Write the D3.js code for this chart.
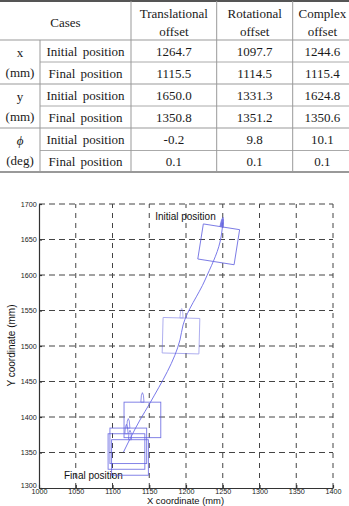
<!DOCTYPE html>
<html>
<head>
<meta charset="utf-8">
<script src="https://cdn.jsdelivr.net/npm/d3@7"></script>
<style>
  body { margin: 0; background: #fff; }
  svg { display: block; }
</style>
</head>
<body>
<div id="chart-container"></div>
<script>
// ---- table data ----
const caseHeaders = [["Translational", "offset"], ["Rotational", "offset"], ["Complex", "offset"]];
const varLabels = [["x", "(mm)"], ["y", "(mm)"], ["\u03d5", "(deg)"]];
const posLabels = ["Initial position", "Final position"];
const translational = ["1264.7", "1115.5", "1650.0", "1350.8", "-0.2", "0.1"];
const rotational = ["1097.7", "1114.5", "1331.3", "1351.2", "9.8", "0.1"];
const complexOff = ["1244.6", "1115.4", "1624.8", "1350.6", "10.1", "0.1"];

// ---- plot data ----
const xTicks = [1000, 1050, 1100, 1150, 1200, 1250, 1300, 1350, 1400];
const yTicks = [1300, 1350, 1400, 1450, 1500, 1550, 1600, 1650, 1700];
// trajectory of the robot centre (mm)
const pathX = [1250.3, 1246.3, 1225.9, 1196.0, 1191.8, 1151.0, 1137.4, 1115.0];
const pathY = [1674.6, 1646.5, 1593.0, 1529.6, 1508.5, 1419.7, 1395.8, 1350.7];
// robot footprint poses (mm, deg)
const poseX = [1244.5, 1193.2, 1140.7, 1121.5, 1119.0, 1123.8];
const poseY = [1643.2, 1514.5, 1395.9, 1359.4, 1351.4, 1343.0];
const poseAngle = [9, 1.5, 0, 0, 0, 0];
const footprint = 50; // mm

const width = 349, height = 506;

const svg = d3.select("#chart-container")
    .append("svg")
        .attr("width", width)
        .attr("height", height);

// ================= table =================
const colX = [0, 40, 131, 216.7, 292.7, 352];
const rowY = [1, 40, 62, 84, 106, 128, 150.5, 172];
const serif = "'Liberation Serif', 'DejaVu Serif', serif";

const tbl = svg.append("g")
    .attr("font-family", serif)
    .attr("font-size", 13)
    .attr("fill", "#1a1a1a");

// horizontal rules
const hRules = [
    { y: rowY[0], x0: 0, w: 2, c: "#555" },
    { y: rowY[1], x0: 0, w: 1, c: "#999" },
    { y: rowY[2], x0: colX[1], w: 1, c: "#aaa" },
    { y: rowY[3], x0: 0, w: 1, c: "#999" },
    { y: rowY[4], x0: colX[1], w: 1, c: "#aaa" },
    { y: rowY[5], x0: 0, w: 1, c: "#999" },
    { y: rowY[6], x0: colX[1], w: 1, c: "#aaa" },
    { y: rowY[7], x0: 0, w: 1.5, c: "#777" }
];
tbl.selectAll("line.h")
    .data(hRules)
    .enter().append("line")
        .attr("class", "h")
        .attr("x1", d => d.x0).attr("x2", width)
        .attr("y1", d => d.y).attr("y2", d => d.y)
        .attr("stroke", d => d.c)
        .attr("stroke-width", d => d.w);

tbl.append("line")
    .attr("x1", colX[1]).attr("x2", colX[1])
    .attr("y1", rowY[1]).attr("y2", rowY[7])
    .attr("stroke", "#999");
tbl.selectAll("line.v")
    .data(colX.slice(2, 5))
    .enter().append("line")
        .attr("class", "v")
        .attr("x1", d => d).attr("x2", d => d)
        .attr("y1", rowY[0]).attr("y2", rowY[7])
        .attr("stroke", "#999");

// header
tbl.append("text")
    .attr("x", (colX[0] + colX[2]) / 2)
    .attr("y", 22)
    .attr("dy", "0.35em")
    .attr("text-anchor", "middle")
    .text("Cases");

caseHeaders.forEach((lines, i) => {
    const cx = (colX[i + 2] + colX[i + 3]) / 2;
    lines.forEach((t, j) => {
        tbl.append("text")
            .attr("x", cx)
            .attr("y", 13 + j * 18)
            .attr("dy", "0.35em")
            .attr("text-anchor", "middle")
            .text(t);
    });
});

// body
const columns = [translational, rotational, complexOff];
varLabels.forEach((lab, g) => {
    const top = rowY[1 + g * 2], bot = rowY[3 + g * 2];
    const mid = (top + bot) / 2;
    tbl.append("text")
        .attr("x", colX[1] / 2)
        .attr("y", mid - 10)
        .attr("dy", "0.35em")
        .attr("text-anchor", "middle")
        .attr("font-style", g === 2 ? "italic" : null)
        .text(lab[0]);
    tbl.append("text")
        .attr("x", colX[1] / 2)
        .attr("y", mid + 10)
        .attr("dy", "0.35em")
        .attr("text-anchor", "middle")
        .text(lab[1]);

    posLabels.forEach((p, k) => {
        const r = 1 + g * 2 + k;
        const cy = (rowY[r] + rowY[r + 1]) / 2;
        tbl.append("text")
            .attr("x", (colX[1] + colX[2]) / 2)
            .attr("y", cy)
            .attr("dy", "0.35em")
            .attr("text-anchor", "middle")
            .attr("word-spacing", 2)
            .text(p);
        columns.forEach((col, c) => {
            tbl.append("text")
                .attr("x", (colX[c + 2] + colX[c + 3]) / 2)
                .attr("y", cy)
                .attr("dy", "0.35em")
                .attr("text-anchor", "middle")
                .text(col[g * 2 + k]);
        });
    });
});

// ================= plot =================
const x = d3.scaleLinear().domain([1000, 1400]).range([39, 333]);
const y = d3.scaleLinear().domain([1300, 1700]).range([488, 204]);
const sans = "'Liberation Sans', Arial, sans-serif";

const plot = svg.append("g");

// dashed grid
plot.selectAll("line.gx")
    .data(xTicks.slice(1))
    .enter().append("line")
        .attr("class", "gx")
        .attr("x1", d => x(d)).attr("x2", d => x(d))
        .attr("y1", y(1300)).attr("y2", y(1700))
        .attr("stroke", "#444")
        .attr("stroke-width", 1)
        .attr("stroke-dasharray", "5,5");
plot.selectAll("line.gy")
    .data(yTicks.slice(1))
    .enter().append("line")
        .attr("class", "gy")
        .attr("x1", x(1000)).attr("x2", x(1400))
        .attr("y1", d => y(d)).attr("y2", d => y(d))
        .attr("stroke", "#444")
        .attr("stroke-width", 1)
        .attr("stroke-dasharray", "6,4");

// axes
const fmt = d3.format("d");
const xAxis = plot.append("g")
    .attr("transform", `translate(0,${y(1300)})`)
    .call(d3.axisBottom(x).tickValues(xTicks).tickFormat(fmt)
        .tickSizeInner(-3).tickSizeOuter(0).tickPadding(1.2));
const yAxis = plot.append("g")
    .attr("transform", `translate(${x(1000)},0)`)
    .call(d3.axisLeft(y).tickValues(yTicks).tickFormat(fmt)
        .tickSizeInner(-3).tickSizeOuter(0).tickPadding(2.3));
[xAxis, yAxis].forEach(a => {
    a.selectAll("path, line").attr("stroke", "#333").attr("stroke-width", 1.2);
    a.selectAll("text")
        .attr("font-family", sans)
        .attr("font-size", 7.2)
        .attr("fill", "#222");
});
// lowest y label sits just above the x labels, as in the original
yAxis.selectAll(".tick text").filter(d => d === 1300).attr("dy", "-0.1em");

// axis titles
plot.append("text")
    .attr("x", 185.5)
    .attr("y", 503.8)
    .attr("text-anchor", "middle")
    .attr("font-family", sans)
    .attr("font-size", 9.4)
    .attr("fill", "#111")
    .text("X coordinate (mm)");
plot.append("text")
    .attr("transform", `translate(15,345.5) rotate(-90)`)
    .attr("text-anchor", "middle")
    .attr("font-family", sans)
    .attr("font-size", 10)
    .attr("fill", "#111")
    .text("Y coordinate (mm)");

// annotations
plot.append("text")
    .attr("x", x(1158))
    .attr("y", y(1683))
    .attr("dy", "0.35em")
    .attr("font-family", sans)
    .attr("font-size", 10)
    .attr("fill", "#111")
    .text("Initial position");
plot.append("text")
    .attr("x", x(1034))
    .attr("y", y(1317))
    .attr("dy", "0.35em")
    .attr("font-family", sans)
    .attr("font-size", 10)
    .attr("fill", "#111")
    .text("Final position");

// robot footprints
const sw = x(1000 + footprint) - x(1000);
const sh = y(1300) - y(1300 + footprint);
const poses = poseX.map((px, i) => ({ px, py: poseY[i], a: poseAngle[i] }));

const robot = plot.selectAll("g.pose")
    .data(poses)
    .enter().append("g")
        .attr("class", "pose")
        .attr("transform", d => `translate(${x(d.px)},${y(d.py)}) rotate(${d.a})`)
        .attr("opacity", (d, i) => i === 1 ? 0.55 : 0.85);

robot.append("rect")
    .attr("x", -sw / 2).attr("y", -sh / 2)
    .attr("width", sw).attr("height", sh)
    .attr("fill", "none")
    .attr("stroke", "#5f5fe0")
    .attr("stroke-width", 0.9);

robot.append("path")
    .attr("d", `M-1.6,${-sh / 2} L-1,${-sh / 2 - 7} L0,${-sh / 2 - 9.5} L1,${-sh / 2 - 7} L1.6,${-sh / 2} Z`)
    .attr("fill", (d, i) => i === 0 ? "#5f5fe0" : "none")
    .attr("stroke", "#5f5fe0")
    .attr("stroke-width", 0.8);

// trajectory
const line = d3.line()
    .x(d => x(d[0]))
    .y(d => y(d[1]))
    .curve(d3.curveMonotoneY);

plot.append("path")
    .datum(pathX.map((v, i) => [v, pathY[i]]))
    .attr("d", line)
    .attr("fill", "none")
    .attr("stroke", "#6a6ae6")
    .attr("stroke-width", 0.9);
</script>
</body>
</html>
